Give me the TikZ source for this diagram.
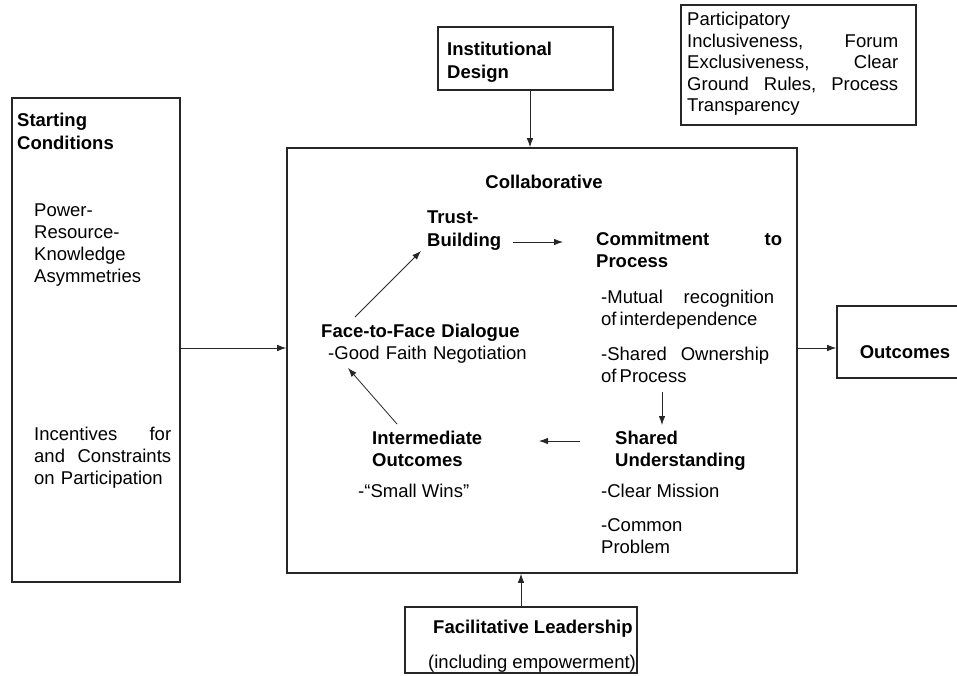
\documentclass[tikz,border=0pt]{standalone}
\usepackage{fontspec}
\setmainfont{Liberation Sans}
\usetikzlibrary{arrows.meta}

\begin{document}
\begin{tikzpicture}[x=1pt, y=-1pt, box/.style={draw=black!85, line width=1.6pt, inner sep=0}, txt/.style={anchor=base west, inner sep=0, align=left, font=\fontsize{18.5}{22}\selectfont}, hd/.style={txt, font=\fontsize{18.5}{22}\selectfont\bfseries}, n/.style={-{Latex[length=9pt, width=6.5pt]}, line width=0.8pt, draw=black!85}]
            \useasboundingbox (0,0) rectangle (957,675);
            % boxes
            \node[box, minimum width=168, minimum height=484] (start) at (96,340) {};
            \node[box, minimum width=510, minimum height=425] (coll) at (542,360.5) {};
            \node[box, minimum width=175, minimum height=63] (inst) at (525.5,58.5) {};
            \node[box, minimum width=235, minimum height=120] (part) at (798.5,65) {};
            \node[box, minimum width=136, minimum height=72] (outc) at (905,342) {};
            \node[box, minimum width=232, minimum height=66] (fac) at (521,640) {};
            % texts
            \node[hd, text width=140] (sch) at (17,126) {Starting\\[1pt]Conditions};
            \node[txt, text width=138] (pwr) at (34,216.5) {Power-\\Resource-\\Knowledge\\Asymmetries};
            \node[txt, text width=137] (inc) at (34,440) {\makebox[137pt][s]{Incentives\hfill for}\\\makebox[137pt][s]{and\hfill Constraints}\\on Participation};
            \node[hd, text width=150] (insth) at (447,55.5) {Institutional\\[1pt]Design};
            \node[txt, text width=211, font=\fontsize{18.5}{21.5}\selectfont] (partt) at (687,25.5) {Participatory\\\makebox[211pt][s]{Inclusiveness,\hfill Forum}\\\makebox[211pt][s]{Exclusiveness,\hfill Clear}\\\makebox[211pt][s]{Ground\hfill Rules,\hfill Process}\\Transparency};
            \node[hd, anchor=base] (colh) at (544,188) {Collaborative};
            \node[hd, text width=75] (trust) at (427,223) {Trust-\\[1pt]Building};
            \node[hd, text width=186] (commit) at (596,245) {\makebox[186pt][s]{Commitment\hfill to}\\Process};
            \node[txt, text width=173] (mutual) at (601,303) {\makebox[173pt][s]{-Mutual\hfill recognition}\\of\,interdependence};
            \node[txt, text width=168] (owner) at (601,360) {\makebox[168pt][s]{-Shared\hfill Ownership}\\of\,Process};
            \node[hd, text width=160] (shared) at (615,444) {Shared\\Understanding};
            \node[txt] (mission) at (601,497) {-Clear Mission};
            \node[txt, text width=120] (common) at (601,531) {-Common\\Problem};
            \node[hd, text width=120] (inter) at (372,444) {Intermediate\\Outcomes};
            \node[txt] (wins) at (358,497) {-“Small Wins”};
            \node[txt, text width=215] (face) at (321,337) {\textbf{Face-to-Face Dialogue}\\\hspace*{7pt}-Good Faith Negotiation};
            \node[hd, anchor=base] (outct) at (905,358) {Outcomes};
            \node[hd] (fach) at (433,633) {Facilitative Leadership};
            \node[txt] (empw) at (428,668) {(including empowerment)};
            % edges
            \coordinate (lvl) at (0,348);
            \draw[n] (start.east |- lvl) -- (coll.west |- lvl);
            \draw[n] (coll.east |- lvl) -- (outc.west |- lvl);
            \draw[n] ([xshift=4.5pt]inst.south) -- ([xshift=4.5pt]inst.south |- coll.north);
            \draw[n] (fac.north) -- (fac.north |- coll.south);
            \draw[n] ([shift={(34,-20)}]face.base west) -- ([shift={(-6,28)}]trust.base west);
            \draw[n] ([shift={(11,19)}]trust.base east) -- ([shift={(-33,-3)}]commit.base west);
            \draw[n] ([shift={(61,32)}]owner.base west) -- ([shift={(47,-19)}]shared.base west);
            \draw[n] ([shift={(-35,-3)}]shared.base west) -- ([shift={(167,-3)}]inter.base west);
            \draw[n] ([shift={(25,-20)}]inter.base west) -- ([shift={(27,31)}]face.base west);
        \end{tikzpicture}
\end{document}
